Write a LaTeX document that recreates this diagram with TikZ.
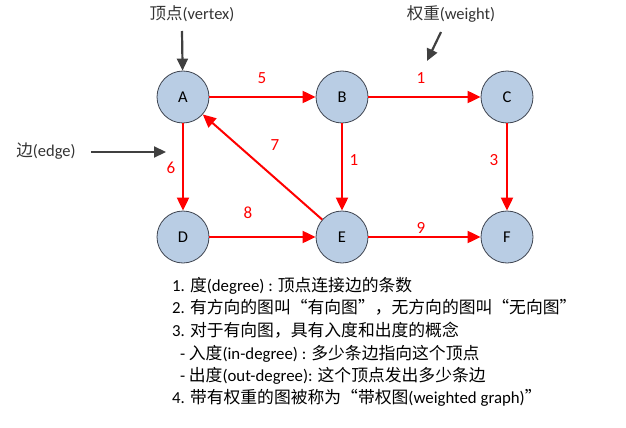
\documentclass[tikz,border=0pt]{standalone}
\usepackage{fontspec}
\setmainfont{Carlito}
\newfontfamily\cjk{Noto Sans CJK SC}
\usetikzlibrary{arrows.meta}
\definecolor{vfill}{RGB}{185,205,228}
\definecolor{vline}{RGB}{62,68,80}
\definecolor{ered}{RGB}{255,0,0}
\definecolor{pgray}{RGB}{64,64,64}

\begin{document}
\begin{tikzpicture}[x = 1pt, y = -1pt,
	vertex/.style = {circle, draw = vline, fill = vfill, line width = 0.8pt, minimum size = 52pt, inner sep = 0pt, font = \fontsize{16.5}{16.5}\selectfont},
	arc/.style = {draw = ered, line width = 2pt, -{Triangle[length = 13pt, width = 12pt]}},
	pointer/.style = {draw = pgray, line width = 2.2pt, -{Triangle[length = 12pt, width = 11pt]}},
	weight/.style = {text = ered, font = \fontsize{17}{17}\selectfont},
	caption/.style = {font = \fontsize{16.5}{16.5}\selectfont, text = black!80},
	note/.style = {anchor = base west, inner sep = 0pt, font = \fontsize{16.8}{22}\selectfont}]
	\useasboundingbox (0, 0) rectangle (626, 428);
	\node[vertex] (A) at (183,  97) {A};
	\node[vertex] (B) at (342,  97) {B};
	\node[vertex] (C) at (507,  97) {C};
	\node[vertex] (D) at (183, 237) {D};
	\node[vertex] (E) at (342, 237) {E};
	\node[vertex] (F) at (507, 237) {F};
	\draw[arc] (A) -- (B);
	\draw[arc] (B) -- (C);
	\draw[arc] (A) -- (D);
	\draw[arc] (B) -- (E);
	\draw[arc] (C) -- (F);
	\draw[arc] (D) -- (E);
	\draw[arc] (E) -- (F);
	\draw[arc] (E) -- (A);
	\node[weight] (wAB) at (262,  78) {5};
	\node[weight] (wBC) at (421,  78) {1};
	\node[weight] (wEA) at (275, 145) {7};
	\node[weight] (wBE) at (354, 160) {1};
	\node[weight] (wCF) at (494, 160) {3};
	\node[weight] (wAD) at (171, 168) {6};
	\node[weight] (wDE) at (248, 213) {8};
	\node[weight] (wEF) at (421, 228) {9};
	\node[caption] (vertexlabel) at (192, 14) {{\cjk 顶点}(vertex)};
	\node[caption] (weightlabel) at (451, 14) {{\cjk 权重}(weight)};
	\node[caption] (edgelabel) at (46, 151) {{\cjk 边}(edge)};
	\coordinate (vstart) at (182, 31);
	\coordinate (wstart) at (441, 32);
	\coordinate (wtip) at (427, 61);
	\coordinate (estart) at (91, 152);
	\coordinate (etip) at (166, 152);
	\draw[pointer] (vstart) -- (A);
	\draw[pointer] (wstart) -- (wtip);
	\draw[pointer] (estart) -- (etip);
	\node[note] (line1) at (172, 291) {1. {\cjk 度}(degree) : {\cjk 顶点连接边的条数}};
	\node[note] (line2) at (172, 313) {2. {\cjk 有方向的图叫“有向图”，无方向的图叫“无向图”}};
	\node[note] (line3) at (172, 336) {3. {\cjk 对于有向图，具有入度和出度的概念}};
	\node[note] (line4) at (176, 359) {\ - {\cjk 入度}(in-degree) : {\cjk 多少条边指向这个顶点}};
	\node[note] (line5) at (176, 381) {\ - {\cjk 出度}(out-degree): {\cjk 这个顶点发出多少条边}};
	\node[note] (line6) at (172, 403) {4. {\cjk 带有权重的图被称为“带权图}(weighted graph){\cjk ”}};
\end{tikzpicture}
\end{document}
